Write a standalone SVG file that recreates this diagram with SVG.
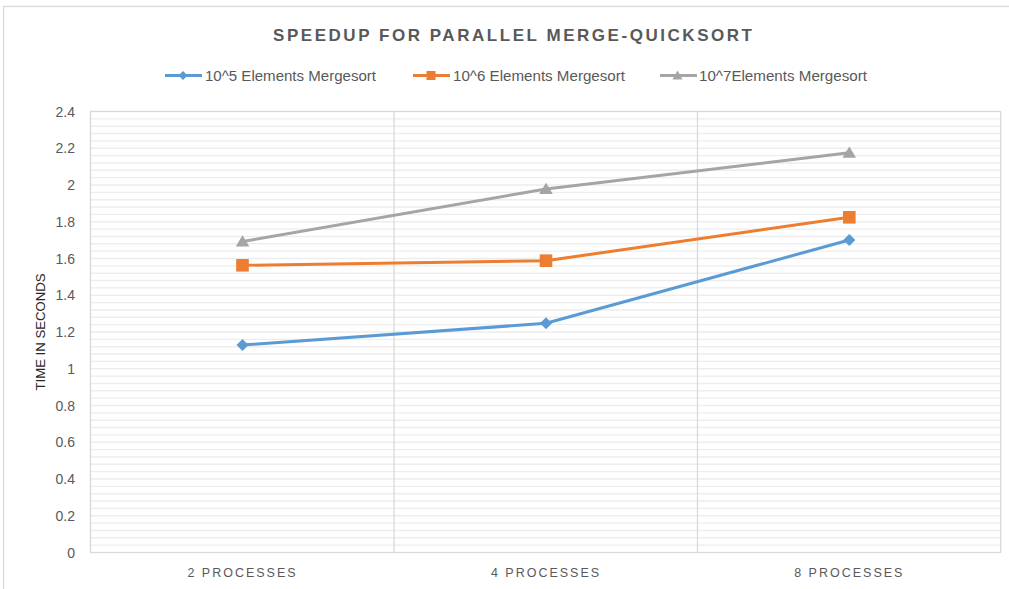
<svg xmlns="http://www.w3.org/2000/svg" width="1009" height="589" viewBox="0 0 1009 589">
  <style>
    .lbl { font-family: "Liberation Sans", Arial, sans-serif; fill: #595959; }
    .ytick { font-size: 14px; text-anchor: end; }
    .xtick { font-size: 12.5px; text-anchor: middle; letter-spacing: 2px; }
    .leg { font-size: 14px; }
    .grid { stroke: #EDEDED; stroke-width: 1.4; fill: none; }
    .vgrid { stroke: #D9D9D9; stroke-width: 1.3; fill: none; }
    .series { fill: none; stroke-width: 3; stroke-linejoin: round; stroke-linecap: round; }
  </style>
  <defs>
    <path id="dia" d="M0 -6 L6 0 L0 6 L-6 0 Z"/>
    <rect id="sq" x="-6.3" y="-6.3" width="12.6" height="12.6"/>
    <path id="tri" d="M0 -6.2 L6.8 5 L-6.8 5 Z"/>
  </defs>
  <rect x="0" y="0" width="1009" height="589" fill="#FFFFFF"/>
  <rect id="chart-frame" x="3.5" y="6.5" width="1020" height="600" fill="none" stroke="#D9D9D9" stroke-width="1.3"/>

  <g id="title">
    <text class="lbl" x="512.5" y="41" font-size="17" font-weight="bold" text-anchor="middle" textLength="479" lengthAdjust="spacing">SPEEDUP FOR PARALLEL MERGE-QUICKSORT</text>
  </g>

  <g id="legend">
    <g id="legend-1">
      <line x1="165" y1="75.5" x2="202" y2="75.5" stroke="#5B9BD5" stroke-width="3"/>
      <path d="M183 71 L187.5 75.5 L183 80 L178.5 75.5 Z" fill="#5B9BD5"/>
      <text class="lbl leg" x="205" y="81" textLength="171" lengthAdjust="spacingAndGlyphs">10^5 Elements Mergesort</text>
    </g>
    <g id="legend-2">
      <line x1="413" y1="75.5" x2="450" y2="75.5" stroke="#ED7D31" stroke-width="3"/>
      <rect x="426.5" y="71" width="9" height="9" fill="#ED7D31"/>
      <text class="lbl leg" x="453" y="81" textLength="172" lengthAdjust="spacingAndGlyphs">10^6 Elements Mergesort</text>
    </g>
    <g id="legend-3">
      <line x1="660" y1="75.5" x2="697" y2="75.5" stroke="#A5A5A5" stroke-width="3"/>
      <path d="M677.5 70.5 L682.5 79.5 L672.5 79.5 Z" fill="#A5A5A5"/>
      <text class="lbl leg" x="699" y="81" textLength="168" lengthAdjust="spacingAndGlyphs">10^7Elements Mergesort</text>
    </g>
  </g>

  <g id="plot-grid">
    <path class="grid" d="M90.5 545.15H1000.7M90.5 537.8H1000.7M90.5 530.45H1000.7M90.5 523.1H1000.7M90.5 515.75H1000.7M90.5 508.4H1000.7M90.5 501.05H1000.7M90.5 493.7H1000.7M90.5 486.35H1000.7M90.5 479H1000.7M90.5 471.65H1000.7M90.5 464.3H1000.7M90.5 456.95H1000.7M90.5 449.6H1000.7M90.5 442.25H1000.7M90.5 434.9H1000.7M90.5 427.55H1000.7M90.5 420.2H1000.7M90.5 412.85H1000.7M90.5 405.5H1000.7M90.5 398.15H1000.7M90.5 390.8H1000.7M90.5 383.45H1000.7M90.5 376.1H1000.7M90.5 368.75H1000.7M90.5 361.4H1000.7M90.5 354.05H1000.7M90.5 346.7H1000.7M90.5 339.35H1000.7M90.5 332H1000.7M90.5 324.65H1000.7M90.5 317.3H1000.7M90.5 309.95H1000.7M90.5 302.6H1000.7M90.5 295.25H1000.7M90.5 287.9H1000.7M90.5 280.55H1000.7M90.5 273.2H1000.7M90.5 265.85H1000.7M90.5 258.5H1000.7M90.5 251.15H1000.7M90.5 243.8H1000.7M90.5 236.45H1000.7M90.5 229.1H1000.7M90.5 221.75H1000.7M90.5 214.4H1000.7M90.5 207.05H1000.7M90.5 199.7H1000.7M90.5 192.35H1000.7M90.5 185H1000.7M90.5 177.65H1000.7M90.5 170.3H1000.7M90.5 162.95H1000.7M90.5 155.6H1000.7M90.5 148.25H1000.7M90.5 140.9H1000.7M90.5 133.55H1000.7M90.5 126.2H1000.7M90.5 118.85H1000.7"/>
    <path class="vgrid" d="M394 111.5V552.5M697.5 111.5V552.5"/>
    <rect x="90.5" y="111.5" width="910.2" height="441" fill="none" stroke="#D9D9D9" stroke-width="1.3"/>
  </g>

  <g id="y-axis" class="lbl ytick">
    <text x="75" y="557.5">0</text>
    <text x="75" y="520.75">0.2</text>
    <text x="75" y="484">0.4</text>
    <text x="75" y="447.25">0.6</text>
    <text x="75" y="410.5">0.8</text>
    <text x="75" y="373.75">1</text>
    <text x="75" y="337">1.2</text>
    <text x="75" y="300.25">1.4</text>
    <text x="75" y="263.5">1.6</text>
    <text x="75" y="226.75">1.8</text>
    <text x="75" y="190">2</text>
    <text x="75" y="153.25">2.2</text>
    <text x="75" y="116.5">2.4</text>
  </g>
  <g id="y-title">
    <text x="0" y="0" transform="translate(44.5 332) rotate(-90)" font-family="Liberation Sans, Arial, sans-serif" font-size="12" fill="#262626" text-anchor="middle" textLength="117" lengthAdjust="spacingAndGlyphs">TIME IN SECONDS</text>
  </g>

  <g id="x-axis" class="lbl xtick">
    <text x="242.5" y="576.5">2 PROCESSES</text>
    <text x="546" y="576.5">4 PROCESSES</text>
    <text x="849.3" y="576.5">8 PROCESSES</text>
  </g>

  <g id="connectors">
    <polyline id="line-1e7" class="series" stroke="#A5A5A5" points="242.5,241.5 546,189 849.3,152.7"/>
    <polyline id="line-1e6" class="series" stroke="#ED7D31" points="242.5,265.3 546,260.7 849.3,217.3"/>
    <polyline id="line-1e5" class="series" stroke="#5B9BD5" points="242.5,345 546,323.3 849.3,240"/>
  </g>

  <g id="series-1e7" fill="#A5A5A5">
    <use href="#tri" x="242.5" y="241.5"/>
    <use href="#tri" x="546" y="189"/>
    <use href="#tri" x="849.3" y="152.7"/>
  </g>
  <g id="series-1e6" fill="#ED7D31">
    <use href="#sq" x="242.5" y="265.3"/>
    <use href="#sq" x="546" y="260.7"/>
    <use href="#sq" x="849.3" y="217.3"/>
  </g>
  <g id="series-1e5" fill="#5B9BD5">
    <use href="#dia" x="242.5" y="345"/>
    <use href="#dia" x="546" y="323.3"/>
    <use href="#dia" x="849.3" y="240"/>
  </g>
</svg>
